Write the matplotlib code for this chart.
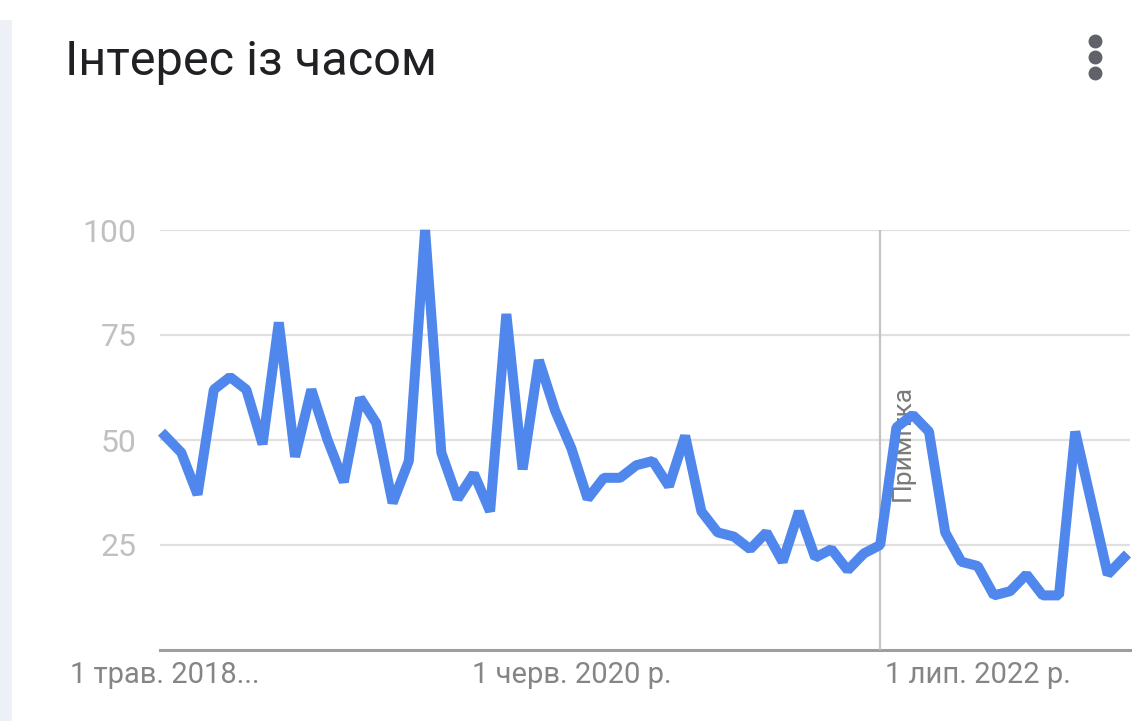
import matplotlib.pyplot as plt
from matplotlib.lines import Line2D

# monthly interest, May 2018 .. Apr 2023
interest = [51, 47, 37, 62, 65, 62, 49, 78, 46, 62,
            50, 40, 60, 54, 35, 45, 100, 47, 36, 42,
            33, 80, 43, 69, 57, 48, 36, 41, 41, 44,
            45, 39, 51, 33, 28, 27, 24, 28, 21, 33,
            22, 24, 19, 23, 25, 53, 56, 52, 28, 21,
            20, 13, 14, 18, 13, 13, 52, 35, 18, 22]
months = list(range(len(interest)))

tick_pos = [0, 25, 50]
tick_labels = ["1 трав. 2018...", "1 черв. 2020 р.", "1 лип. 2022 р."]
y_ticks = [25, 50, 75, 100]
note_idx = 44  # 1 Jan 2022 data-collection note

plt.rcParams['font.family'] = ['Roboto', 'DejaVu Sans']

fig = plt.figure(figsize=(11.35, 7.21), dpi=100)
fig.patch.set_facecolor('white')

ax = fig.add_axes([160/1135, 1 - 650/721, 970/1135, 420/721])
ax.plot(months, interest, color='#5087ec', lw=7.2, solid_joinstyle='bevel',
        clip_on=False, zorder=4)
ax.set_xlim(-0.31, 59.37)
ax.set_ylim(0, 100)

ax.set_yticks(y_ticks)
ax.set_yticklabels([str(v) for v in y_ticks])
ax.set_xticks(tick_pos)
ax.set_xticklabels(tick_labels)
ax.tick_params(axis='y', length=0, pad=17, labelsize=23, labelcolor='#c0c0c0')
ax.tick_params(axis='x', length=0, pad=8, labelsize=21, labelcolor='#858585')

ax.grid(axis='y', color='#e0e0e0', lw=1.6)
ax.set_axisbelow(True)
for s in ['top', 'right', 'left']:
    ax.spines[s].set_visible(False)
ax.spines['bottom'].set_color('#9e9e9e')
ax.spines['bottom'].set_linewidth(2.2)

# note marker
ax.axvline(note_idx, ymin=0, ymax=1, color='#c4c4c4', lw=1.6, zorder=3)
ax.text(note_idx + 1.4, 35.5, "Примітка", rotation=90, ha='center', va='bottom',
        fontsize=19, color='#7a7a7a', zorder=2)

# card edge on the left
fig.add_artist(plt.Rectangle((0, 0), 12/1135, 1 - 20/721, transform=fig.transFigure,
                             color='#eef0f7', lw=0))

fig.text(65/1135, 1 - 75/721, "Інтерес із часом", fontsize=35, color='#202124',
         ha='left', va='baseline')
fig.add_artist(Line2D([1095/1135]*3, [1 - 41/721, 1 - 57/721, 1 - 73/721],
                      transform=fig.transFigure, marker='o', markersize=9,
                      linestyle='none', color='#5f6368'))

fig.savefig('out.png', dpi=100, facecolor='white')
